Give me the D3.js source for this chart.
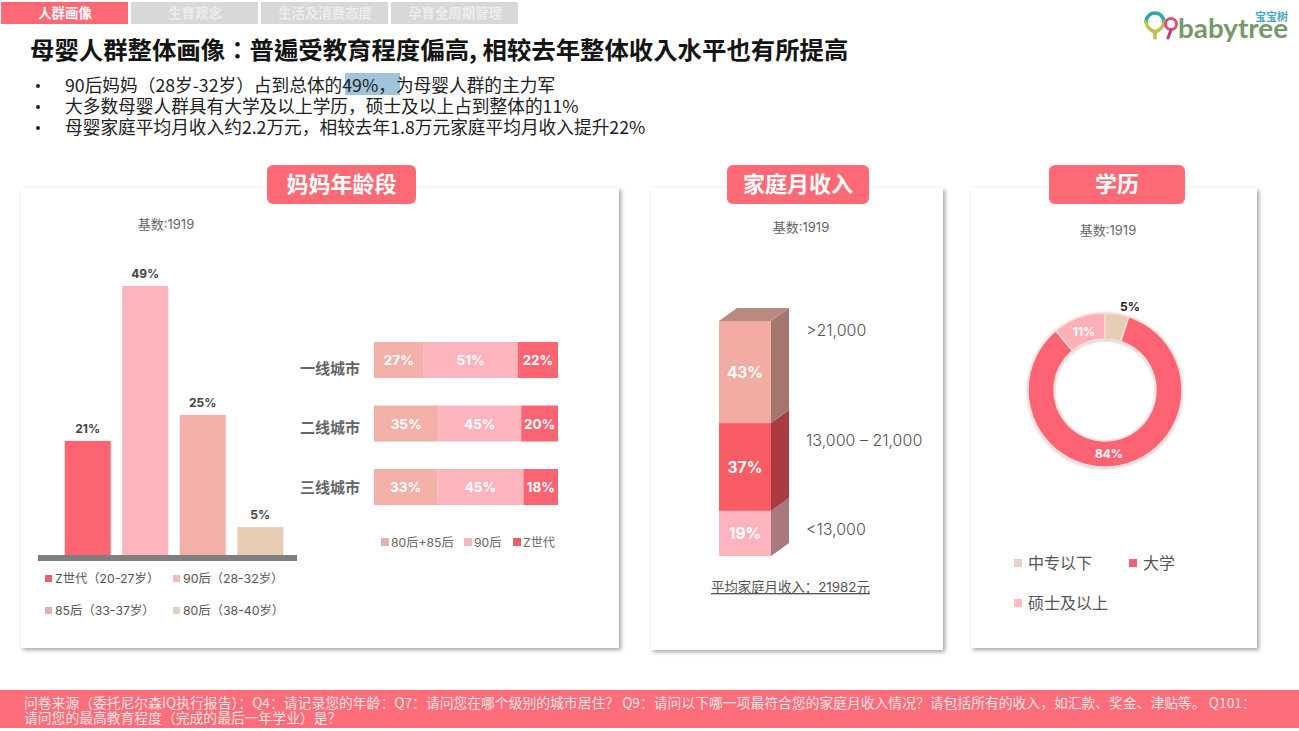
<!DOCTYPE html>
<html>
<head>
<meta charset="UTF-8">
<script src="https://d3js.org/d3.v7.min.js"></script>
<style>
    body { margin: 0; background: #fff; }
    svg { display: block; }
    text { font-family: Inter, "Noto Sans CJK SC", sans-serif; }
    .cjk { font-family: "Noto Sans CJK SC", sans-serif; }
</style>
</head>
<body>
<div id="chart"></div>
<script>
// nav + copy
var tabs = ["人群画像", "生育观念", "生活及消费态度", "孕育全周期管理"];
var pageTitle = "母婴人群整体画像：普遍受教育程度偏高, 相较去年整体收入水平也有所提高";
var bullets = [
    "90后妈妈（28岁-32岁）占到总体的49%，为母婴人群的主力军",
    "大多数母婴人群具有大学及以上学历，硕士及以上占到整体的11%",
    "母婴家庭平均月收入约2.2万元，相较去年1.8万元家庭平均月收入提升22%"
];
var footLines = [
    "问卷来源（委托尼尔森IQ执行报告）：Q4：请记录您的年龄：Q7：请问您在哪个级别的城市居住？ Q9：请问以下哪一项最符合您的家庭月收入情况？请包括所有的收入，如汇款、奖金、津贴等。 Q101：",
    "请问您的最高教育程度（完成的最后一年学业）是？"
];
var baseLabel = "基数:1919";

// age bars - heights, labels as printed
var ageNames = ["Z世代（20-27岁）", "90后（28-32岁）", "85后（33-37岁）", "80后（38-40岁）"];
var ageValues = [21, 49, 25.7, 5.4];
var ageLabels = ["21%", "49%", "25%", "5%"];

// city stacks
var cities = ["一线城市", "二线城市", "三线城市"];
var cityKeys = ["80后+85后", "90后", "Z世代"];
var cityOld = [27, 35, 33];
var city90 = [51, 45, 45];
var cityZ = [22, 20, 18];

// income column, bottom to top
var incomeNames = ["<13,000", "13,000 – 21,000", ">21,000"];
var incomeValues = [19, 37, 43];
var incomeNote = "平均家庭月收入：21982元";

// education donut
var eduNames = ["中专以下", "大学", "硕士及以上"];
var eduValues = [5, 84, 11];

var red = "#fd6472", pink = "#feb4bc", salmon = "#f3b0a8", beige = "#e8cdb6";

var svg = d3.select("#chart").append("svg").attr("width", 1299).attr("height", 731);

var defs = svg.append("defs");
var shadow = defs.append("filter").attr("id", "shadow")
    .attr("x", "-5%").attr("y", "-5%").attr("width", "110%").attr("height", "110%");
shadow.append("feDropShadow").attr("dx", 2).attr("dy", 2).attr("stdDeviation", 2)
    .attr("flood-color", "#555").attr("flood-opacity", 0.55);
var softShadow = defs.append("filter").attr("id", "softShadow")
    .attr("x", "-10%").attr("y", "-10%").attr("width", "120%").attr("height", "120%");
softShadow.append("feDropShadow").attr("dx", 0).attr("dy", 1).attr("stdDeviation", 1.5)
    .attr("flood-color", "#777").attr("flood-opacity", 0.4);

// top tabs
tabs.forEach(function (t, i) {
    var x = 1 + i * 130;
    svg.append("rect").attr("x", x).attr("y", 2).attr("width", 127).attr("height", 22)
        .attr("fill", i == 0 ? "#fd6a76" : "#d9d7d9");
    svg.append("text").attr("class", "cjk").attr("x", x + 64).attr("y", 18)
        .attr("text-anchor", "middle")
        .attr("font-size", 13.4).attr("font-weight", 700)
        .attr("fill", i == 0 ? "#fff" : "#eeeced").text(t);
});

// title + bullets
svg.append("text").attr("x", 30).attr("y", 59)
    .style("font-family", '"Noto Sans CJK TC", sans-serif')
    .attr("font-size", 24.4).attr("font-weight", 700).attr("fill", "#141414").text(pageTitle);
svg.append("rect").attr("x", 345).attr("y", 73).attr("width", 55).attr("height", 22).attr("fill", "#a1c4dc");
var bulletText = svg.append("text").attr("class", "cjk").attr("font-size", 17.7).attr("fill", "#222");
bullets.forEach(function (b, i) {
    var y = 92 + i * 21;
    svg.append("circle").attr("cx", 38).attr("cy", y - 6).attr("r", 2).attr("fill", "#222");
    bulletText.append("tspan").attr("x", 65).attr("y", y).text(b);
});

// cards + headers
var cards = [
    { x: 21, w: 598, h: 460, px: 267, pw: 149, name: "妈妈年龄段", bx: 166, by: 229 },
    { x: 651, w: 292, h: 462, px: 727, pw: 142, name: "家庭月收入", bx: 801, by: 232 },
    { x: 971, w: 286, h: 460, px: 1049, pw: 136, name: "学历", bx: 1108, by: 235 }
];
cards.forEach(function (c) {
    svg.append("rect").attr("x", c.x).attr("y", 188).attr("width", c.w).attr("height", c.h)
        .attr("fill", "#fff").attr("filter", "url(#shadow)");
    svg.append("rect").attr("x", c.px).attr("y", 165).attr("width", c.pw).attr("height", 39)
        .attr("rx", 6).attr("fill", "#fd6a76");
    svg.append("text").attr("class", "cjk").attr("x", c.px + c.pw / 2).attr("y", 192)
        .attr("text-anchor", "middle").attr("font-size", 22).attr("font-weight", 700)
        .attr("fill", "#fff").text(c.name);
    svg.append("text").attr("x", c.bx).attr("y", c.by).attr("text-anchor", "middle")
        .attr("font-size", 13).attr("fill", "#666").text(baseLabel);
});

// age bars
var ageColors = [red, pink, salmon, beige];
var ageX = d3.scaleBand().domain(ageNames).range([59, 289]).paddingInner(0.2).paddingOuter(0.1);
var ageY = d3.scaleLinear().domain([0, 49]).range([557, 286]);
svg.append("g").selectAll("rect").data(ageValues).join("rect")
    .attr("x", function (d, i) { return ageX(ageNames[i]); })
    .attr("y", function (d) { return ageY(d); })
    .attr("width", ageX.bandwidth())
    .attr("height", function (d) { return ageY(0) - ageY(d); })
    .attr("fill", function (d, i) { return ageColors[i]; });
svg.append("g").selectAll("text").data(ageValues).join("text")
    .attr("x", function (d, i) { return ageX(ageNames[i]) + ageX.bandwidth() / 2; })
    .attr("y", function (d) { return ageY(d) - 8; })
    .attr("text-anchor", "middle").attr("font-size", 12).attr("font-weight", 700)
    .attr("fill", "#444").text(function (d, i) { return ageLabels[i]; });
svg.append("rect").attr("x", 38).attr("y", 555).attr("width", 259).attr("height", 6).attr("fill", "#7f7f7f");

var ageLegend = [[45, 578], [173, 578], [45, 610], [173, 610]];
var ageLegendColors = ["#e8606f", "#efbac3", "#e3b2ae", "#e5cfbc"];
ageNames.forEach(function (n, i) {
    var p = ageLegend[i];
    svg.append("rect").attr("x", p[0]).attr("y", p[1] - 3).attr("width", 7).attr("height", 7).attr("fill", ageLegendColors[i]);
    svg.append("text").attr("x", p[0] + 10).attr("y", p[1] + 5)
        .attr("font-size", 12.3).attr("fill", "#555").text(n);
});

// city stacked bars - the rows fill the same width even when they sum under 100
var cityRows = cities.map(function (c, i) {
    return { city: c, "80后+85后": cityOld[i], "90后": city90[i], "Z世代": cityZ[i] };
});
var stack = d3.stack().keys(cityKeys).offset(d3.stackOffsetExpand)(cityRows);
var cityX = d3.scaleLinear().domain([0, 1]).range([374, 558]);
var cityY = d3.scaleBand().domain(cities).range([342, 505]).paddingInner(0.433);
var cityColors = d3.scaleOrdinal().domain(cityKeys).range([salmon, pink, red]);
var cityLayers = svg.append("g").selectAll("g").data(stack).join("g");
cityLayers.selectAll("rect").data(function (l) { return l; }).join("rect")
    .attr("x", function (d) { return cityX(d[0]); })
    .attr("y", function (d) { return cityY(d.data.city); })
    .attr("width", function (d) { return cityX(d[1]) - cityX(d[0]); })
    .attr("height", cityY.bandwidth())
    .attr("fill", function () { return cityColors(d3.select(this.parentNode).datum().key); });
cityLayers.selectAll("text").data(function (l) { return l.map(function (d) { return { d: d, key: l.key }; }); }).join("text")
    .attr("x", function (e) { return (cityX(e.d[0]) + cityX(e.d[1])) / 2; })
    .attr("y", function (e) { return cityY(e.d.data.city) + cityY.bandwidth() / 2 + 5; })
    .attr("text-anchor", "middle").attr("font-size", 13.5).attr("font-weight", 700)
    .attr("fill", "#fff").text(function (e) { return e.d.data[e.key] + "%"; });
var cityLabelY = [374, 433, 493];
svg.append("g").selectAll("text").data(cities).join("text")
    .attr("class", "cjk")
    .attr("x", 360).attr("y", function (d, i) { return cityLabelY[i]; })
    .attr("text-anchor", "end").attr("font-size", 15).attr("font-weight", 700)
    .attr("fill", "#666").text(function (d) { return d; });

var cityLegendX = [381, 464, 513];
var cityLegendColors = ["#e3b2ae", "#efbac3", "#e8606f"];
cityKeys.forEach(function (k, i) {
    svg.append("rect").attr("x", cityLegendX[i]).attr("y", 538).attr("width", 8).attr("height", 8).attr("fill", cityLegendColors[i]);
    svg.append("text").attr("x", cityLegendX[i] + 10).attr("y", 547)
        .attr("font-size", 12.2).attr("fill", "#666").text(k);
});

// income column (front face plus a fake 3d side)
var incomeY = d3.scaleLinear().domain([0, d3.sum(incomeValues)]).range([556, 321]);
var incomeFront = ["#feb4bc", "#fa5c65", "#f2aca3"];
var incomeSide = ["#a97980", "#a83c40", "#a3776f"];
var depthX = 18, depthY = 13, frontL = 719, frontR = 771;
var cum = 0;
incomeValues.forEach(function (v, i) {
    var y0 = incomeY(cum), y1 = incomeY(cum + v);
    cum += v;
    svg.append("polygon").attr("fill", incomeSide[i]).attr("points", [
        [frontR, y0], [frontR + depthX, y0 - depthY], [frontR + depthX, y1 - depthY], [frontR, y1]
    ].join(" "));
    svg.append("rect").attr("x", frontL).attr("y", y1).attr("width", frontR - frontL)
        .attr("height", y0 - y1).attr("fill", incomeFront[i]);
    svg.append("text").attr("x", (frontL + frontR) / 2).attr("y", (y0 + y1) / 2 + 6)
        .attr("text-anchor", "middle").attr("font-size", 15.5).attr("font-weight", 700)
        .attr("fill", "#fff").text(v + "%");
});
svg.append("polygon").attr("fill", "#b98a80").attr("points", [
    [frontL, 321], [frontL + depthX, 321 - depthY], [frontR + depthX, 321 - depthY], [frontR, 321]
].join(" "));
var incomeLabelY = [535, 446, 336];
incomeNames.forEach(function (n, i) {
    svg.append("text").attr("x", 806).attr("y", incomeLabelY[i])
        .attr("font-size", 16).attr("font-weight", 300).attr("fill", "#555").text(n);
});
svg.append("text").attr("x", 790.5).attr("y", 592).attr("text-anchor", "middle")
    .attr("font-size", 13.4).attr("fill", "#555").attr("text-decoration", "underline").text(incomeNote);

// education donut
var eduColors = [beige, red, "#fdb0b8"];
var pie = d3.pie().sort(null)(eduValues);
var arc = d3.arc().innerRadius(51).outerRadius(77);
var donut = svg.append("g").attr("transform", "translate(1105,390)");
donut.append("g").attr("filter", "url(#softShadow)").selectAll("path").data(pie).join("path")
    .attr("d", arc)
    .attr("fill", function (d, i) { return eduColors[i]; })
    .attr("stroke", "#f6dcdc").attr("stroke-width", 1.5);
donut.selectAll("text").data(pie).join("text")
    .attr("transform", function (d, i) {
        if (i == 0) return "translate(25,-79)";
        if (i == 1) return "translate(4,68)";
        return "translate(-21,-54)";
    })
    .attr("text-anchor", "middle").attr("font-size", 12).attr("font-weight", 700)
    .attr("fill", function (d, i) { return i == 0 ? "#222" : "#fff"; })
    .text(function (d) { return d.data + "%"; });

var eduLegend = [[1014, 569], [1129, 569], [1014, 609]];
var eduLegendColors = ["#e8d3c2", "#f0606f", "#fdbcc3"];
eduNames.forEach(function (n, i) {
    var p = eduLegend[i];
    svg.append("rect").attr("x", p[0]).attr("y", p[1] - 10).attr("width", 8).attr("height", 8).attr("fill", eduLegendColors[i]);
    svg.append("text").attr("class", "cjk").attr("x", p[0] + 14).attr("y", p[1])
        .attr("font-size", 16).attr("fill", "#555").text(n);
});

// footer
svg.append("rect").attr("x", 0).attr("y", 690).attr("width", 1299).attr("height", 38).attr("fill", "#fd6d7a");
var footText = svg.append("text").attr("class", "cjk").attr("font-size", 13.8).attr("fill", "#fbe3e5");
footLines.forEach(function (l, i) {
    footText.append("tspan").attr("x", 24).attr("y", 708 + i * 15).text(l);
});

// logo, roughly
var logo = svg.append("g").attr("transform", "translate(1143,8)").attr("fill", "none").attr("stroke-linecap", "round");
logo.append("path").attr("d", "M3 14 A9 9 0 0 1 21 14").attr("stroke", "#2ea8a8").attr("stroke-width", 3.5);
logo.append("path").attr("d", "M3 14 Q4 21 12 24 L12 30 M21 14 Q20 21 12 24").attr("stroke", "#b8c24c").attr("stroke-width", 3.5);
logo.append("circle").attr("cx", 28).attr("cy", 16).attr("r", 5.5).attr("stroke", "#d94f7a").attr("stroke-width", 3);
logo.append("path").attr("d", "M28 22 L25 30").attr("stroke", "#c43a78").attr("stroke-width", 3);
svg.append("text").attr("x", 1178).attr("y", 38)
    .style("font-family", "Lato").attr("font-size", 27).attr("font-weight", 700)
    .attr("fill", "#76996a").attr("textLength", 110).attr("lengthAdjust", "spacingAndGlyphs").text("babytree");
svg.append("text").attr("class", "cjk").attr("x", 1255).attr("y", 21)
    .attr("font-size", 11).attr("font-weight", 700).attr("fill", "#4ba6c4").text("宝宝树");
</script>
</body>
</html>
